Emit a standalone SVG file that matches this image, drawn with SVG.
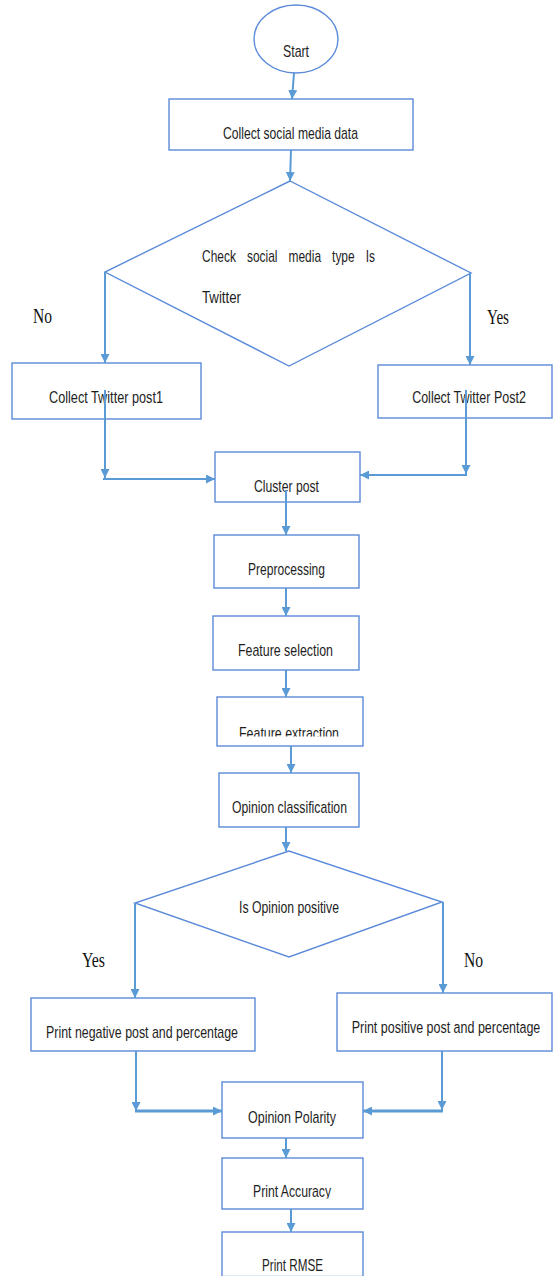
<svg xmlns="http://www.w3.org/2000/svg" width="553" height="1276" viewBox="0 0 553 1276">
<style>
.shape{fill:#ffffff;stroke:#5B8BD9;stroke-width:1.4}
.conn{fill:none;stroke:#5B9BD5;stroke-width:2}
.thick{stroke-width:3}
.t{font-family:"Liberation Sans",Arial,sans-serif;font-size:17px;fill:#1e1e1e;text-anchor:middle}
.ts{text-anchor:start}
.lbl{font-family:"Liberation Serif","Times New Roman",serif;font-size:20px;fill:#111111}
</style>
<defs>
<marker id="ah" viewBox="0 0 10 10" markerWidth="9" markerHeight="9" markerUnits="userSpaceOnUse" refX="10" refY="5" orient="auto">
<path d="M0,0 L10,5 L0,10 z" fill="#5B9BD5"/>
</marker>
<clipPath id="clipFE"><rect x="200" y="690" width="180" height="46.5"/></clipPath>
<clipPath id="clipPA"><rect x="200" y="1150" width="180" height="48.5"/></clipPath>
</defs>
<rect width="553" height="1276" fill="#ffffff"/>

<g id="start">
<ellipse class="shape" cx="296" cy="39" rx="42" ry="34"/>
<text class="t" x="296" y="57" textLength="26" lengthAdjust="spacingAndGlyphs">Start</text>
</g>
<g id="collect">
<rect class="shape" x="169" y="99" width="244" height="51"/>
<text class="t" x="290.5" y="139" textLength="135" lengthAdjust="spacingAndGlyphs">Collect social media data</text>
</g>
<g id="check">
<polygon class="shape" points="290,181 105,272 289,366 471,273"/>
<text class="t ts" x="202" y="262" word-spacing="11" textLength="173" lengthAdjust="spacingAndGlyphs">Check social media type Is</text>
<text class="t ts" x="202" y="303" textLength="39" lengthAdjust="spacingAndGlyphs">Twitter</text>
</g>
<g id="post1">
<rect class="shape" x="12" y="363" width="189" height="56"/>
<text class="t" x="106" y="403" textLength="114" lengthAdjust="spacingAndGlyphs">Collect Twitter post1</text>
</g>
<g id="post2">
<rect class="shape" x="378" y="365" width="174" height="53"/>
<text class="t" transform="translate(469,403) scale(0.72,1)" x="0" y="0" textLength="158" lengthAdjust="spacingAndGlyphs">Collect Twitter Post2</text>
</g>
<g id="cluster">
<rect class="shape" x="215" y="452" width="145" height="50"/>
<text class="t" x="286.5" y="492" textLength="65" lengthAdjust="spacingAndGlyphs">Cluster post</text>
</g>
<g id="preprocessing">
<rect class="shape" x="214" y="535" width="145" height="53"/>
<text class="t" x="286.5" y="575" textLength="77" lengthAdjust="spacingAndGlyphs">Preprocessing</text>
</g>
<g id="featsel">
<rect class="shape" x="213" y="616" width="146" height="54"/>
<text class="t" x="285.5" y="656" textLength="95" lengthAdjust="spacingAndGlyphs">Feature selection</text>
</g>
<g id="featext">
<rect class="shape" x="217" y="697" width="146" height="49"/>
<text class="t" x="289" y="739" textLength="100" lengthAdjust="spacingAndGlyphs" clip-path="url(#clipFE)">Feature extraction</text>
</g>
<g id="classification">
<rect class="shape" x="219" y="773" width="140" height="54"/>
<text class="t" x="289.5" y="813" textLength="115" lengthAdjust="spacingAndGlyphs">Opinion classification</text>
</g>
<g id="positive">
<polygon class="shape" points="289,851 135,903 289,957 442,902"/>
<text class="t" x="289" y="913" textLength="100" lengthAdjust="spacingAndGlyphs">Is Opinion positive</text>
</g>
<g id="negpost">
<rect class="shape" x="31" y="998" width="224" height="53"/>
<text class="t" x="142" y="1038" textLength="192" lengthAdjust="spacingAndGlyphs">Print negative post and percentage</text>
</g>
<g id="pospost">
<rect class="shape" x="337" y="993" width="215" height="58"/>
<text class="t" transform="translate(446,1033) scale(0.72,1)" x="0" y="0" textLength="262" lengthAdjust="spacingAndGlyphs">Print positive post and percentage</text>
</g>
<g id="polarity">
<rect class="shape" x="222" y="1082" width="141" height="56"/>
<text class="t" x="292" y="1123" textLength="88" lengthAdjust="spacingAndGlyphs">Opinion Polarity</text>
</g>
<g id="accuracy">
<rect class="shape" x="222" y="1158" width="141" height="51"/>
<text class="t" x="292" y="1197" textLength="78" lengthAdjust="spacingAndGlyphs" clip-path="url(#clipPA)">Print Accuracy</text>
</g>
<g id="rmse">
<rect class="shape" x="222" y="1232" width="141" height="44.5"/>
<text class="t" x="292.5" y="1271" textLength="61" lengthAdjust="spacingAndGlyphs">Print RMSE</text>
</g>

<g id="labels">
<text class="lbl" x="33" y="323" textLength="19" lengthAdjust="spacingAndGlyphs">No</text>
<text class="lbl" x="487" y="324" textLength="22" lengthAdjust="spacingAndGlyphs">Yes</text>
<text class="lbl" x="82" y="967" textLength="23" lengthAdjust="spacingAndGlyphs">Yes</text>
<text class="lbl" x="464" y="967" textLength="19" lengthAdjust="spacingAndGlyphs">No</text>
</g>

<g id="connectors">
<line class="conn" x1="294" y1="73" x2="292" y2="99" marker-end="url(#ah)"/>
<line class="conn" x1="291" y1="150" x2="290" y2="181" marker-end="url(#ah)"/>
<line class="conn" x1="105" y1="272" x2="105" y2="363" marker-end="url(#ah)"/>
<line class="conn" x1="470" y1="273" x2="470" y2="365" marker-end="url(#ah)"/>
<line class="conn" x1="105" y1="390" x2="105" y2="478" marker-end="url(#ah)"/>
<line class="conn" x1="103" y1="479" x2="215" y2="479" marker-end="url(#ah)"/>
<line class="conn" x1="466" y1="390" x2="466" y2="474" marker-end="url(#ah)"/>
<line class="conn" x1="467" y1="475" x2="360" y2="475" marker-end="url(#ah)"/>
<line class="conn" x1="286" y1="490" x2="286" y2="535" marker-end="url(#ah)"/>
<line class="conn" x1="286" y1="588" x2="286" y2="616" marker-end="url(#ah)"/>
<line class="conn" x1="286" y1="670" x2="286" y2="697" marker-end="url(#ah)"/>
<line class="conn" x1="291" y1="746" x2="291" y2="773" marker-end="url(#ah)"/>
<line class="conn" x1="286" y1="827" x2="286" y2="851" marker-end="url(#ah)"/>
<line class="conn" x1="135" y1="903" x2="135" y2="998" marker-end="url(#ah)"/>
<line class="conn" x1="443" y1="902" x2="443" y2="993" marker-end="url(#ah)"/>
<line class="conn" x1="136" y1="1051" x2="136" y2="1111" marker-end="url(#ah)"/>
<line class="conn thick" x1="135" y1="1111" x2="222" y2="1111" marker-end="url(#ah)"/>
<line class="conn" x1="442" y1="1051" x2="442" y2="1110" marker-end="url(#ah)"/>
<line class="conn thick" x1="443" y1="1111" x2="363" y2="1111" marker-end="url(#ah)"/>
<line class="conn" x1="286" y1="1138" x2="286" y2="1158" marker-end="url(#ah)"/>
<line class="conn" x1="291" y1="1209" x2="291" y2="1232" marker-end="url(#ah)"/>
</g>
</svg>
